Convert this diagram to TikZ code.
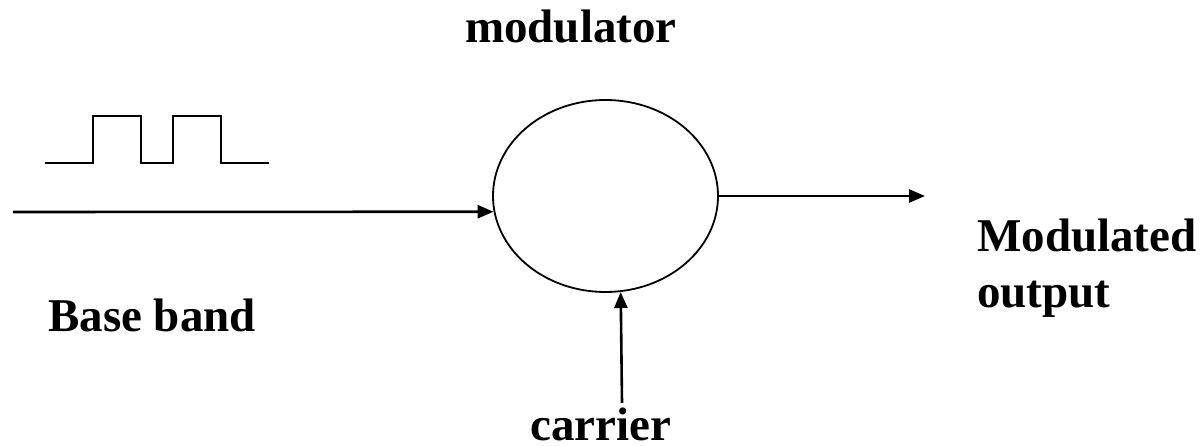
\documentclass[tikz,border=0pt]{standalone}
\usepackage{fontspec}
\setmainfont{Liberation Serif}
\usetikzlibrary{arrows.meta,shapes.geometric}
\begin{document}
\begin{tikzpicture}[x=1pt,y=-1pt,
  label/.style={font=\fontsize{47}{56}\selectfont\bfseries, inner sep=0pt, anchor=base west},
  arr/.style={line width=2.6pt, -{Triangle[length=16pt,width=13pt]}},
  pulse/.style={line width=1.8pt, line join=miter}]
  \useasboundingbox (0,0) rectangle (1203,446);

  % modulator block
  \node[draw, ellipse, line width=1.8pt, minimum width=225pt, minimum height=192pt, inner sep=0pt] (mod) at (605.5,196) {};

  % baseband pulse train
  \draw[pulse] (45,163) -- (93,163) -- (93,116) -- (141,116) -- (141,163)
               -- (173,163) -- (173,116) -- (221,116) -- (221,163) -- (269,163);

  % connectors
  \coordinate (bbin) at (13,212);
  \coordinate (modout) at (925,196);
  \coordinate (carin) at (622,403);
  \draw[arr] (bbin) -- (mod.188.2);
  \draw[arr] (mod.east) -- (modout);
  \draw[arr] (carin) -- (mod.279.8);

  % labels
  \node[label] (tmod) at (465,43) {modulator};
  \node[label] (tbb) at (48,332) {Base band};
  \node[label] (tout1) at (977,252) {Modulated};
  \node[label] (tout2) at (977,308) {output};
  \node[label] (tcar) at (530,441) {carrier};
\end{tikzpicture}
\end{document}
